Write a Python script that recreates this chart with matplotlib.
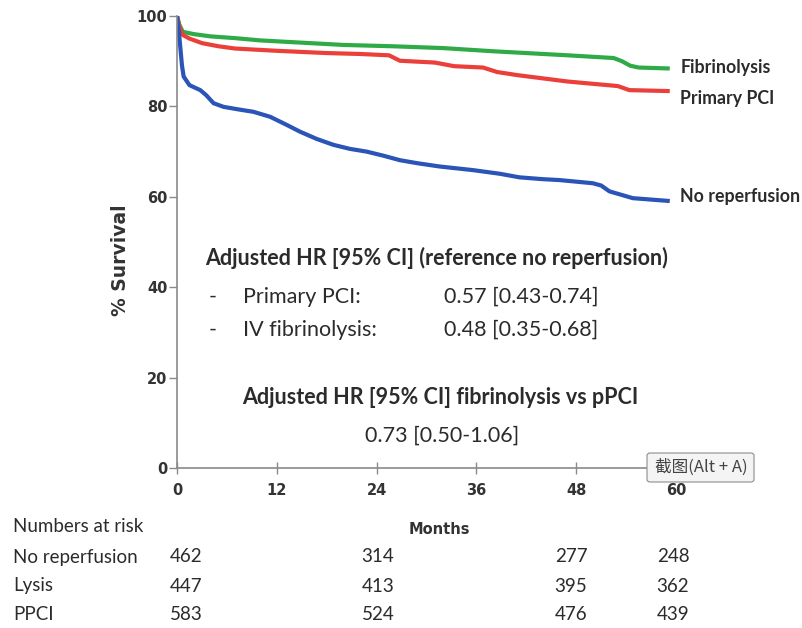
import matplotlib.pyplot as plt
from matplotlib.patches import FancyBboxPatch

# Kaplan-Meier curves (months, % survival)
fib_months = [0, 0.3, 0.7, 2, 4, 7, 10, 14, 20, 26, 32, 38, 42, 47, 52.5, 53.5, 54.5, 55.5, 59]
fib_surv = [100, 98, 96.5, 96, 95.5, 95.1, 94.6, 94.2, 93.6, 93.3, 92.9, 92.2, 91.8, 91.3, 90.7, 90.0, 89.0, 88.6, 88.4]

ppci_months = [0, 0.3, 0.7, 1.5, 3, 5, 7, 12, 18, 22, 25.5, 26.8, 31, 33.3, 36.8, 38.5, 41, 44, 47, 50, 53, 54.4, 59]
ppci_surv = [100, 97.5, 95.8, 95, 94, 93.3, 92.8, 92.3, 91.8, 91.6, 91.3, 90.1, 89.7, 88.9, 88.6, 87.6, 86.9, 86.2, 85.5, 85, 84.5, 83.6, 83.4]

norep_months = [0, 0.2, 0.4, 0.6, 0.8, 1.5, 2.8, 3.5, 4.4, 5.6, 7.5, 9.2, 11.2, 13.2, 14.8, 16.8, 18.8,
                20.8, 22.8, 24.8, 26.8, 29, 31.6, 35.6, 38.8, 41.2, 44, 46, 50, 51, 52, 53.5, 54.8, 59]
norep_surv = [100, 97, 93, 89, 86.6, 84.7, 83.6, 82.5, 80.7, 79.9, 79.3, 78.8, 77.7, 75.9, 74.4, 72.8, 71.5,
              70.6, 70.0, 69.1, 68.1, 67.4, 66.7, 65.9, 65.1, 64.3, 63.9, 63.7, 63.0, 62.5, 61.2, 60.4, 59.7, 59.1]

x_ticks = [0, 12, 24, 36, 48, 60]
y_ticks = [0, 20, 40, 60, 80, 100]

risk_groups = ["No reperfusion", "Lysis", "PPCI"]
risk_times = [0, 24, 48, 60]
risk_norep = [462, 314, 277, 248]
risk_lysis = [447, 413, 395, 362]
risk_ppci = [583, 524, 476, 439]

GREEN = "#2eab47"
RED = "#eb3f3a"
BLUE = "#2b54b8"
TXT = "#2b2b2b"
FONT = "Lato"
TICKFONT = "Liberation Sans Narrow"

fig = plt.figure(figsize=(8.02, 6.28), dpi=100)
ax = fig.add_axes([177 / 802, (628 - 468) / 628, (676 - 177) / 802, (468 - 16) / 628])

ax.plot(fib_months, fib_surv, color=GREEN, lw=3, solid_joinstyle="round")
ax.plot(ppci_months, ppci_surv, color=RED, lw=3, solid_joinstyle="round")
ax.plot(norep_months, norep_surv, color=BLUE, lw=3, solid_joinstyle="round")

ax.set_xlim(0, 60)
ax.set_ylim(0, 100)
for s in ["top", "right"]:
    ax.spines[s].set_visible(False)
for s in ["left", "bottom"]:
    ax.spines[s].set_color("#8a8a8a")
    ax.spines[s].set_linewidth(1.2)
ax.spines["bottom"].set_bounds(0, 60.5)

ax.set_xticks(x_ticks)
ax.set_yticks(y_ticks)
ax.tick_params(axis="x", direction="inout", length=9, width=1, color="#8a8a8a", pad=6)
ax.tick_params(axis="y", direction="out", length=6, width=1, color="#8a8a8a", pad=1)
for lab in ax.get_xticklabels() + ax.get_yticklabels():
    lab.set_fontfamily(TICKFONT)
    lab.set_fontweight("bold")
    lab.set_fontsize(10.5)
    lab.set_color("#333333")

ax.set_xlabel("Months", fontfamily=TICKFONT, fontweight="bold", fontsize=10.5, color="#333333")
ax.xaxis.set_label_coords(0.525, -0.12)
ax.set_ylabel("% Survival", fontfamily="DejaVu Sans", fontweight="bold", fontsize=13.5, color="#333333")
ax.yaxis.set_label_coords(-0.094, 0.46)

# curve labels
lab_kw = dict(fontfamily=FONT, fontweight="bold", fontsize=12.8, color=TXT, va="center", ha="left", clip_on=False)
ax.text(60.5, fib_surv[-1] + 0.3, "Fibrinolysis", **lab_kw)
ax.text(60.5, ppci_surv[-1] - 1.6, "Primary PCI", **lab_kw)
ax.text(60.5, norep_surv[-1] + 1.0, "No reperfusion", **lab_kw)

# hazard ratio annotations (pixel positions in figure)
def ftext(px, py, s, **kw):
    fig.text(px / 802, 1 - py / 628, s, fontfamily=FONT, color=TXT, va="center", **kw)

ftext(205, 258, "Adjusted HR [95% CI] (reference no reperfusion)", fontsize=15.5, fontweight="bold")
ftext(209, 297, "-", fontsize=15.5)
ftext(243, 297, "Primary PCI:", fontsize=15.5)
ftext(444, 297, "0.57 [0.43-0.74]", fontsize=15.5)
ftext(209, 330, "-", fontsize=15.5)
ftext(243, 330, "IV fibrinolysis:", fontsize=15.5)
ftext(444, 330, "0.48 [0.35-0.68]", fontsize=15.5)
ftext(440, 398, "Adjusted HR [95% CI] fibrinolysis vs pPCI", fontsize=15.5, fontweight="bold", ha="center")
ftext(442, 436, "0.73 [0.50-1.06]", fontsize=15.5, ha="center")

# screenshot-tool tooltip
box = FancyBboxPatch((647 / 802, 1 - 482 / 628), 107 / 802, 29 / 628, boxstyle="round,pad=0,rounding_size=0.004",
                     transform=fig.transFigure, facecolor="#f4f4f4", edgecolor="#8c8c8c", lw=0.8)
fig.patches.append(box)
fig.text(701 / 802, 1 - 467 / 628, "截图(Alt + A)", fontfamily=["Noto Sans CJK SC", "DejaVu Sans"],
         fontsize=12, color="#444444", ha="center", va="center")

# numbers at risk table
ftext(13, 526, "Numbers at risk", fontsize=13.5)
row_y = [557, 586, 614]
for name, ry in zip(risk_groups, row_y):
    ftext(13, ry, name, fontsize=13.5)
col_px = [186, 378, 571, 673]
for counts, ry in zip([risk_norep, risk_lysis, risk_ppci], row_y):
    for t, n, cx in zip(risk_times, counts, col_px):
        ftext(cx, ry, str(n), fontsize=13.5, ha="center")

fig.savefig("out.png", dpi=100, facecolor="white")
